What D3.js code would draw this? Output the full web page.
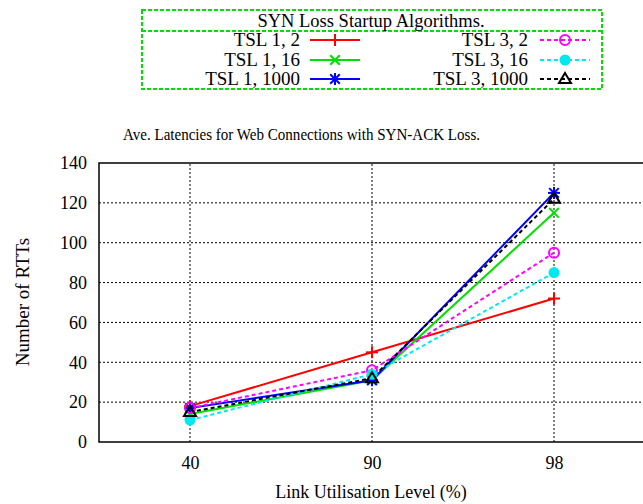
<!DOCTYPE html>
<html>
<head>
<meta charset="utf-8">
<script src="https://cdn.jsdelivr.net/npm/d3@7"></script>
<style>
  body { margin: 0; background: #fff; }
  svg { display: block; }
</style>
</head>
<body>
<svg id="chart"></svg>
<script>
const WIDTH = 643;
const HEIGHT = 504;
const FONT = "Times New Roman";

const categories = ["40", "90", "98"];
const yTicks = [0, 20, 40, 60, 80, 100, 120, 140];

const tsl1_2 = [18, 45, 72];
const tsl1_16 = [14, 31, 115];
const tsl1_1000 = [17, 31, 125];
const tsl3_2 = [17, 36, 95];
const tsl3_16 = [11, 34, 85];
const tsl3_1000 = [15, 32, 122];

const series = [
  { name: "TSL 1, 2", values: tsl1_2, color: "#ff0000", dash: null, mark: "plus" },
  { name: "TSL 1, 16", values: tsl1_16, color: "#00e000", dash: null, mark: "cross" },
  { name: "TSL 1, 1000", values: tsl1_1000, color: "#0000ff", dash: null, mark: "star" },
  { name: "TSL 3, 2", values: tsl3_2, color: "#ff00ff", dash: "4,3", mark: "circle" },
  { name: "TSL 3, 16", values: tsl3_16, color: "#00e8f0", dash: "4,3", mark: "dot" },
  { name: "TSL 3, 1000", values: tsl3_1000, color: "#000000", dash: "4,3", mark: "triangle" }
];

const PLOT = { left: 99, top: 163, bottom: 442 };

// draws a point marker centred on (cx, cy)
function drawMark(g, type, cx, cy, color) {
  const s = 6;
  const line = (x1, y1, x2, y2) => g.append("line")
    .attr("x1", cx + x1).attr("y1", cy + y1).attr("x2", cx + x2).attr("y2", cy + y2)
    .attr("stroke", color).attr("stroke-width", 2);
  if (type === "plus" || type === "star") {
    line(-s, 0, s, 0); line(0, -s, 0, s);
  }
  if (type === "cross" || type === "star") {
    line(-s * 0.8, -s * 0.8, s * 0.8, s * 0.8); line(-s * 0.8, s * 0.8, s * 0.8, -s * 0.8);
  }
  if (type === "circle") {
    g.append("circle").attr("cx", cx).attr("cy", cy).attr("r", 5)
      .attr("fill", "none").attr("stroke", color).attr("stroke-width", 2);
  }
  if (type === "dot") {
    g.append("circle").attr("cx", cx).attr("cy", cy).attr("r", 5.5).attr("fill", color);
  }
  if (type === "triangle") {
    g.append("path")
      .attr("d", `M${cx},${cy - 6}L${cx + 6},${cy + 4}L${cx - 6},${cy + 4}Z`)
      .attr("fill", "none").attr("stroke", color).attr("stroke-width", 2);
  }
}

function label(sel, size) {
  return sel.attr("font-family", FONT).attr("font-size", size).attr("fill", "#000");
}

window.addEventListener("load", () => {
  const svg = d3.select("#chart").attr("width", WIDTH).attr("height", HEIGHT);

  const x = d3.scalePoint().domain(categories)
    .range([PLOT.left, 645]).padding(0.5);
  const y = d3.scaleLinear().domain([0, 140])
    .range([PLOT.bottom, PLOT.top]);

  // grid
  const grid = svg.append("g");
  grid.selectAll("line.h").data(yTicks.slice(1, -1)).enter().append("line")
    .attr("x1", PLOT.left).attr("x2", WIDTH)
    .attr("y1", d => y(d)).attr("y2", d => y(d))
    .attr("stroke", "#000").attr("stroke-width", 1).attr("stroke-dasharray", "2,2");
  grid.selectAll("line.v").data(categories).enter().append("line")
    .attr("x1", d => x(d)).attr("x2", d => x(d))
    .attr("y1", y(0)).attr("y2", y(140))
    .attr("stroke", "#000").attr("stroke-width", 1).attr("stroke-dasharray", "2,2");

  // frame
  svg.append("path")
    .attr("d", `M${WIDTH},${y(140)}H${PLOT.left}V${y(0)}H${WIDTH}`)
    .attr("fill", "none").attr("stroke", "#000").attr("stroke-width", 1.5);

  // axes labels
  const yAxis = d3.axisLeft(y).tickValues(yTicks).tickSize(0).tickPadding(12);
  const ya = svg.append("g").attr("transform", `translate(${PLOT.left},0)`).call(yAxis);
  ya.select(".domain").remove();
  label(ya, 18);
  label(ya.selectAll("text"), 18);

  const xAxis = d3.axisBottom(x).tickSize(0).tickPadding(14);
  const xa = svg.append("g").attr("transform", `translate(0,${y(0)})`).call(xAxis);
  xa.select(".domain").remove();
  label(xa, 18);
  label(xa.selectAll("text"), 18);

  label(svg.append("text"), 18).attr("x", 371).attr("y", 498).attr("text-anchor", "middle")
    .text("Link Utilisation Level (%)");
  label(svg.append("text"), 19).attr("transform", "translate(29,302) rotate(-90)")
    .attr("text-anchor", "middle").text("Number of RTTs");
  label(svg.append("text"), 17).attr("x", 301.5).attr("y", 140).attr("text-anchor", "middle")
    .attr("textLength", 357).attr("lengthAdjust", "spacingAndGlyphs")
    .text("Ave. Latencies for Web Connections with SYN-ACK Loss.");

  // series
  const lineGen = d3.line().x((d, i) => x(categories[i])).y(d => y(d));
  series.forEach(s => {
    svg.append("path").datum(s.values).attr("d", lineGen)
      .attr("fill", "none").attr("stroke", s.color).attr("stroke-width", 2)
      .attr("stroke-dasharray", s.dash);
  });
  series.forEach(s => {
    const g = svg.append("g");
    s.values.forEach((v, i) => drawMark(g, s.mark, x(categories[i]), y(v), s.color));
  });

  // legend
  const leg = svg.append("g");
  leg.append("rect").attr("x", 142).attr("y", 10).attr("width", 460).attr("height", 79)
    .attr("fill", "none").attr("stroke", "#00e000").attr("stroke-width", 2)
    .attr("stroke-dasharray", "4,2");
  leg.append("line").attr("x1", 142).attr("x2", 602).attr("y1", 31).attr("y2", 31)
    .attr("stroke", "#00e000").attr("stroke-width", 2).attr("stroke-dasharray", "4,2");
  label(leg.append("text"), 18.5).attr("x", 371).attr("y", 27).attr("text-anchor", "middle")
    .text("SYN Loss Startup Algorithms.");

  const rowY = [40, 60, 79];
  series.forEach((s, i) => {
    const col = Math.floor(i / 3);
    const cy = rowY[i % 3];
    const tx = col === 0 ? 300 : 528;
    const lx = col === 0 ? 310 : 540;
    label(leg.append("text"), 19).attr("x", tx).attr("y", cy + 6).attr("text-anchor", "end")
      .text(s.name);
    leg.append("line").attr("x1", lx).attr("x2", lx + 50).attr("y1", cy).attr("y2", cy)
      .attr("stroke", s.color).attr("stroke-width", 2).attr("stroke-dasharray", s.dash);
    drawMark(leg, s.mark, lx + 25, cy, s.color);
  });
});
</script>
</body>
</html>
